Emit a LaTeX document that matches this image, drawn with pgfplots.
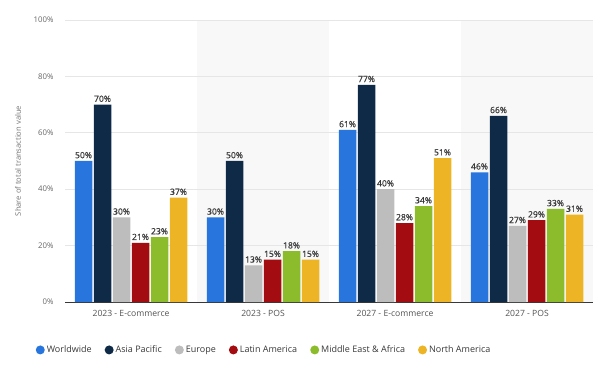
\documentclass[border=0pt]{standalone}
\usepackage{pgfplots}
\pgfplotsset{compat=1.18}
\usepackage{fontspec}
\setmainfont{Open Sans}
\newfontface\valfont{Open Sans}[FakeBold=0.35]

\definecolor{cWorld}{HTML}{2876DD}
\definecolor{cAsia}{HTML}{0F2A47}
\definecolor{cEurope}{HTML}{BDBDBD}
\definecolor{cLatam}{HTML}{A30D11}
\definecolor{cMea}{HTML}{8CBC2B}
\definecolor{cNam}{HTML}{EDB526}
\definecolor{shadebg}{HTML}{F8F8F8}
\definecolor{gridgray}{HTML}{E6E6E6}
\definecolor{ticktext}{HTML}{666666}
\definecolor{valtext}{HTML}{383838}

\begin{document}
\begin{tikzpicture}
\path (0,0) rectangle (602pt,375pt);
\begin{axis}[
  set layers,
  at={(65pt,73pt)}, anchor=south west,
  scale only axis, width=528pt, height=282pt,
  xmin=-0.5, xmax=3.5, ymin=0, ymax=100,
  ybar=1.5pt, bar width=17.5pt,
  /pgf/number format/assume math mode=true,
  xtick={0,1,2,3},
  xticklabels={2023 - E-commerce, 2023 - POS, 2027 - E-commerce, 2027 - POS},
  ytick={0,20,40,60,80,100},
  yticklabel={\pgfmathprintnumber{\tick}\%},
  ymajorgrids, grid style={color=gridgray, line width=0.7pt},
  axis x line*=bottom, axis y line*=left,
  y axis line style={draw=none},
  x axis line style={color=valtext, line width=0.9pt, -},
  major tick length=0pt,
  yticklabel style={font=\fontsize{7.8}{9}\selectfont, text=ticktext, xshift=-8pt},
  xticklabel style={font=\fontsize{8.6}{10}\selectfont, text=ticktext!80!black, yshift=-5pt},
  ylabel={Share of total transaction value},
  ylabel style={font=\fontsize{7.6}{9}\selectfont, text=ticktext!90,
    at={(axis description cs:-0.089,0.5)}, anchor=center},
  nodes near coords={\pgfmathprintnumber{\pgfplotspointmeta}\%},
  nodes near coords style={font=\valfont\fontsize{8.6}{10}\selectfont, text=valtext, inner sep=2.5pt},
  every axis plot/.append style={draw=none,
    legend image code/.code={\fill[##1] (2pt,0pt) circle (4.5pt);}},
  legend style={at={(axis description cs:0.377,-0.170)}, anchor=center,
    draw=none, fill=none, font=\fontsize{9}{11}\selectfont, text=valtext,
    legend columns=6,
    /tikz/every even column/.append style={column sep=11pt}},
]
\begin{pgfonlayer}{axis background}
  \fill[shadebg] (axis cs:0.5,0) rectangle (axis cs:1.5,100);
  \fill[shadebg] (axis cs:2.5,0) rectangle (axis cs:3.5,100);
\end{pgfonlayer}

\addplot[fill=cWorld]  coordinates {(0,50) (1,30) (2,61) (3,46)};
\addplot[fill=cAsia]   coordinates {(0,70) (1,50) (2,77) (3,66)};
\addplot[fill=cEurope] coordinates {(0,30) (1,13) (2,40) (3,27)};
\addplot[fill=cLatam]  coordinates {(0,21) (1,15) (2,28) (3,29)};
\addplot[fill=cMea]    coordinates {(0,23) (1,18) (2,34) (3,33)};
\addplot[fill=cNam]    coordinates {(0,37) (1,15) (2,51) (3,31)};
\legend{Worldwide, Asia Pacific, Europe, Latin America, Middle East \& Africa, North America}
\end{axis}
\end{tikzpicture}
\end{document}
